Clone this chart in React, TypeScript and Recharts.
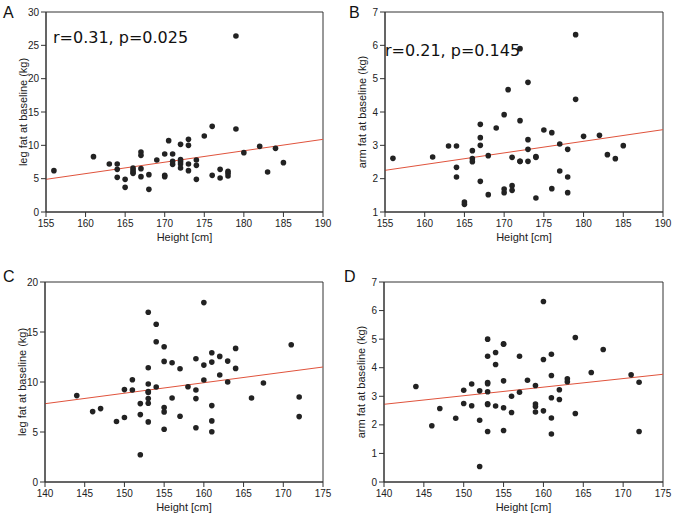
import React from 'react';
import {
  ScatterChart,
  Scatter,
  XAxis,
  YAxis,
  ReferenceLine,
  ReferenceArea,
} from 'recharts';

// Panel A / B: height vs leg and arm fat (cohort 1)
const heightAB = [
  156, 161, 163, 164, 164, 164, 165, 165, 166, 166, 166, 166, 167, 167, 167, 167,
  168, 168, 169, 170, 170, 170, 170.5, 171, 171, 171, 172, 172, 172, 172, 172,
  173, 173, 173, 173, 174, 174, 174, 175, 176, 176, 177, 177, 178, 178, 178,
  179, 179, 180, 182, 183, 184, 185,
];
const legFatA = [
  6.2, 8.3, 7.2, 7.2, 6.4, 5.2, 4.9, 3.7, 6.6, 6.3, 6.0, 5.8, 9.0, 8.5, 6.5, 5.3,
  5.6, 3.4, 7.8, 8.7, 5.5, 5.3, 10.7, 8.7, 7.6, 7.15, 10.15, 7.85, 7.55, 7.2, 6.6,
  10.9, 10.0, 7.2, 6.2, 7.8, 7.0, 4.9, 11.4, 12.85, 5.5, 6.4, 5.1, 6.1, 5.8, 5.4,
  26.4, 12.45, 8.9, 9.85, 6.0, 9.55, 7.4,
];

const heightB = [
  156, 161, 163, 164, 164, 164, 165, 165, 166, 166, 166, 167, 167, 167, 167,
  168, 168, 169, 170, 170, 170, 170.5, 171, 171, 171, 172, 172, 172, 172,
  173, 173, 173, 173, 174, 174, 174, 175, 176, 176, 177, 177, 178, 178, 178,
  179, 179, 180, 182, 183, 184, 185,
];
const armFatB = [
  2.61, 2.65, 2.98, 2.98, 2.34, 2.05, 1.3, 1.23, 2.84, 2.6, 2.51, 3.63, 3.23, 3.0, 1.92,
  2.69, 1.52, 3.52, 3.92, 1.69, 1.58, 4.67, 2.64, 1.79, 1.65, 5.9, 3.74, 2.52, 2.52,
  4.89, 3.17, 2.88, 2.52, 2.66, 2.64, 1.42, 3.46, 3.38, 1.7, 3.04, 2.23, 2.88, 2.05, 1.58,
  6.32, 4.38, 3.27, 3.3, 2.72, 2.6, 2.99,
];

// Panel C / D: cohort 2
const heightCD = [
  144, 146, 147, 149, 150, 150, 151, 151, 152, 152, 152, 153, 153, 153, 153, 153,
  153, 153, 153, 154, 154, 154, 155, 155, 155, 155, 155, 156, 156, 157, 157, 158,
  159, 159, 159, 159, 160, 160, 160, 161, 161, 161, 161, 161, 162, 162, 163, 163,
  164, 164, 166, 167.5, 171, 172, 172,
];
const legFatC = [
  8.64, 7.04, 7.34, 6.05, 9.24, 6.45, 10.23, 9.2, 7.84, 6.74, 2.72, 16.98, 11.43, 9.8, 9.05, 8.95,
  8.34, 7.87, 6.01, 15.78, 14.02, 9.5, 13.52, 12.06, 7.44, 7.01, 5.28, 11.93, 8.4, 11.33, 6.58, 9.53,
  12.33, 9.2, 8.34, 5.42, 17.94, 11.69, 10.2, 12.92, 11.99, 7.64, 6.11, 5.02, 12.56, 10.7, 12.09, 10.0,
  13.36, 11.36, 8.4, 9.9, 13.72, 8.5, 6.54,
];
const armFatD = [
  3.34, 1.97, 2.57, 2.23, 3.21, 2.75, 3.43, 2.67, 3.19, 2.16, 0.54, 5.0, 4.4, 3.48, 3.44, 3.16,
  2.74, 2.71, 1.77, 4.53, 4.11, 2.66, 4.84, 3.54, 2.6, 1.8, 4.82, 3.0, 2.43, 4.4, 3.14, 3.56,
  3.38, 2.73, 2.64, 2.45, 6.32, 4.29, 2.49, 4.47, 3.73, 2.95, 2.24, 1.68, 3.23, 2.89, 3.61, 3.51,
  5.06, 2.4, 3.83, 4.64, 3.75, 3.49, 1.77,
];

// regression line end points [x0, y0, x1, y1]
const fitA = [155, 4.9, 190, 10.9];
const fitB = [155, 2.25, 190, 3.47];
const fitC = [140, 7.83, 175, 11.5];
const fitD = [140, 2.72, 175, 3.77];

const ticksX1 = [155, 160, 165, 170, 175, 180, 185, 190];
const ticksX2 = [140, 145, 150, 155, 160, 165, 170, 175];
const ticksLeg1 = [0, 5, 10, 15, 20, 25, 30];
const ticksLeg2 = [0, 5, 10, 15, 20];
const ticksArm1 = [1, 2, 3, 4, 5, 6, 7];
const ticksArm2 = [0, 1, 2, 3, 4, 5, 6, 7];

const zip = (xs: number[], ys: number[]) => xs.map((x, i) => ({ x, y: ys[i] }));

const AXIS = '#333';
const DOT = '#222';
const FIT = '#e0533c';

const tickStyle = { fontSize: 10, fill: '#222', fontFamily: 'Liberation Sans, Arial, sans-serif' };

interface PanelProps {
  left: number;
  top: number;
  height: number;
  margin: { top: number; right: number; bottom: number; left: number };
  data: { x: number; y: number }[];
  xTicks: number[];
  yTicks: number[];
  yLabel: string;
  fit: number[];
  letter: string;
  letterPos: [number, number];
  note?: string;
  notePos?: [number, number];
}

function Dot(props: any) {
  return <circle cx={props.cx} cy={props.cy} r={2.8} fill={DOT} />;
}

function Panel(p: PanelProps) {
  const xDom = [p.xTicks[0], p.xTicks[p.xTicks.length - 1]];
  const yDom = [p.yTicks[0], p.yTicks[p.yTicks.length - 1]];
  return (
    <div style={{ position: 'absolute', left: p.left, top: p.top, width: 337, height: p.height }}>
      <ScatterChart width={337} height={p.height} margin={p.margin} style={{ fontFamily: 'Liberation Sans, Arial, sans-serif' }}>
        <XAxis
          type="number"
          dataKey="x"
          domain={xDom}
          ticks={p.xTicks}
          allowDataOverflow
          height={30}
          tickSize={5}
          tickMargin={3}
          tick={tickStyle}
          stroke={AXIS}
          label={{ value: 'Height [cm]', position: 'insideBottom', offset: 1, fontSize: 11, fill: '#222' }}
        />
        <YAxis
          type="number"
          dataKey="y"
          domain={yDom}
          ticks={p.yTicks}
          allowDataOverflow
          width={40}
          tickSize={5}
          tickMargin={2}
          tick={tickStyle}
          stroke={AXIS}
          label={{
            value: p.yLabel,
            angle: -90,
            position: 'insideLeft',
            offset: 17,
            fontSize: 11,
            fill: '#222',
            style: { textAnchor: 'middle' },
          }}
        />
        <ReferenceArea x1={xDom[0]} x2={xDom[1]} y1={yDom[0]} y2={yDom[1]} fill="none" stroke={AXIS} strokeWidth={1} fillOpacity={0} />
        <ReferenceLine
          segment={[
            { x: p.fit[0], y: p.fit[1] },
            { x: p.fit[2], y: p.fit[3] },
          ]}
          stroke={FIT}
          strokeWidth={1}
        />
        <Scatter data={p.data} shape={Dot} isAnimationActive={false} />
      </ScatterChart>
      <div
        style={{
          position: 'absolute',
          left: p.letterPos[0],
          top: p.letterPos[1],
          fontSize: 16,
          lineHeight: '16px',
          fontFamily: 'Liberation Sans, Arial, sans-serif',
          color: '#111',
        }}
      >
        {p.letter}
      </div>
      {p.note && p.notePos && (
        <div
          style={{
            position: 'absolute',
            left: p.notePos[0],
            top: p.notePos[1],
            fontSize: 16,
            lineHeight: '16px',
            fontFamily: 'DejaVu Sans, sans-serif',
            color: '#111',
            whiteSpace: 'nowrap',
          }}
        >
          {p.note}
        </div>
      )}
    </div>
  );
}

export default function App() {
  return (
    <div style={{ position: 'absolute', left: 0, top: 0, width: 674, height: 518, background: '#fff' }}>
      <Panel
        left={0}
        top={0}
        height={258}
        margin={{ top: 12, right: 14, bottom: 16, left: 6 }}
        data={zip(heightAB, legFatA)}
        xTicks={ticksX1}
        yTicks={ticksLeg1}
        yLabel="leg fat at baseline (kg)"
        fit={fitA}
        letter="A"
        letterPos={[3, 5]}
        note="r=0.31, p=0.025"
        notePos={[53, 30]}
      />
      <Panel
        left={337}
        top={0}
        height={258}
        margin={{ top: 12, right: 11, bottom: 16, left: 8 }}
        data={zip(heightB, armFatB)}
        xTicks={ticksX1}
        yTicks={ticksArm1}
        yLabel="arm fat at baseline (kg)"
        fit={fitB}
        letter="B"
        letterPos={[12, 5]}
        note="r=0.21, p=0.145"
        notePos={[48, 43]}
      />
      <Panel
        left={0}
        top={258}
        height={260}
        margin={{ top: 24, right: 14, bottom: 6, left: 5 }}
        data={zip(heightCD, legFatC)}
        xTicks={ticksX2}
        yTicks={ticksLeg2}
        yLabel="leg fat at baseline (kg)"
        fit={fitC}
        letter="C"
        letterPos={[3, 11]}
      />
      <Panel
        left={337}
        top={258}
        height={260}
        margin={{ top: 24, right: 11, bottom: 6, left: 7 }}
        data={zip(heightCD, armFatD)}
        xTicks={ticksX2}
        yTicks={ticksArm2}
        yLabel="arm fat at baseline (kg)"
        fit={fitD}
        letter="D"
        letterPos={[7, 11]}
      />
    </div>
  );
}
